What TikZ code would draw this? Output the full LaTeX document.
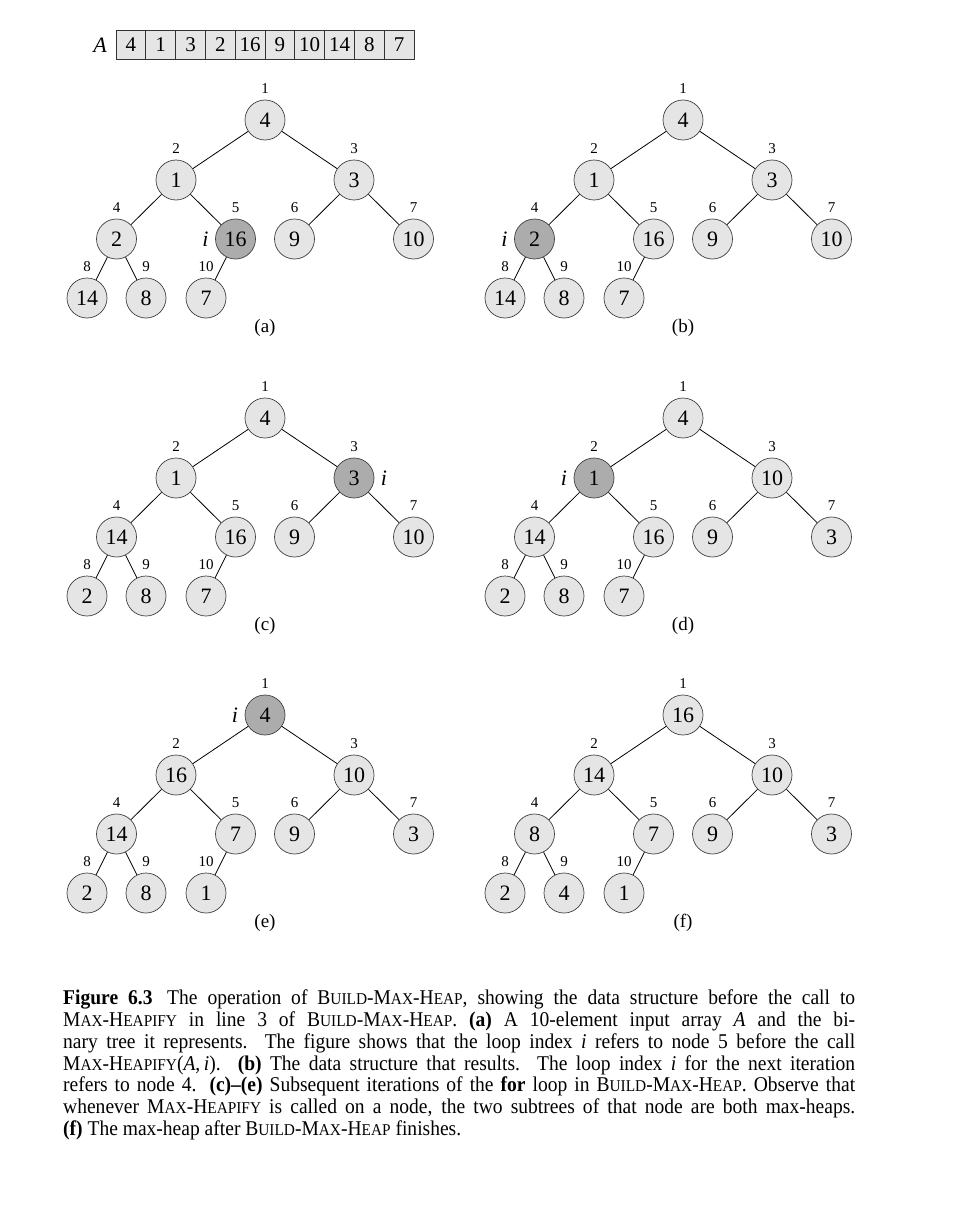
\documentclass[tikz,border=0pt]{standalone}
\usepackage{fontspec}
\setmainfont{Liberation Serif}
\newfontfamily\captionfont[Ligatures=TeX, FakeStretch=0.93]{Liberation Serif}

\newcommand{\smallcap}[1]{{\fontsize{16.5}{18}\selectfont #1}}
\newcommand{\buildmaxheap}{B\smallcap{UILD}-M\smallcap{AX}-H\smallcap{EAP}}
\newcommand{\maxheapify}{M\smallcap{AX}-H\smallcap{EAPIFY}}

\begin{document}
\begin{tikzpicture}[x=1pt, y=-1pt,
    heapnode/.style={circle, draw=black!75, line width=0.7pt, fill=gray!20,
        minimum size=40pt, inner sep=0pt, font=\fontsize{22}{24}\selectfont},
    current/.style={fill=gray!65},
    idx/.style={font=\fontsize{15}{18}\selectfont, inner sep=0pt},
    ilabel/.style={font=\fontsize{22}{24}\selectfont\itshape, inner sep=0pt},
    sub/.style={font=\fontsize{19}{22}\selectfont, inner sep=0pt},
    cell/.style={draw=black!80, line width=0.7pt, fill=gray!20, minimum width=29.8pt,
        minimum height=29pt, inner sep=0pt, font=\fontsize{21}{24}\selectfont},
    edge/.style={line width=0.8pt}]

\useasboundingbox (0,0) rectangle (954,1220);

% --- Input array A ---
\node[ilabel] (A) at (100,45) {A};
\foreach \val [count=\k] in {4,1,3,2,16,9,10,14,8,7} {
    \node[cell] (arr\k) at (101.1+29.8*\k, 44.5) {\val};
}

% --- Heaps (a)-(f): name/root x/root y/values/current node/offset of i ---
\foreach \tr/\ox/\oy/\vals/\hl/\ix in {
    a/265/120/{4,1,3,2,16,9,10,14,8,7}/5/-30,
    b/683/120/{4,1,3,2,16,9,10,14,8,7}/4/-30,
    c/265/418/{4,1,3,14,16,9,10,2,8,7}/3/30,
    d/683/418/{4,1,10,14,16,9,3,2,8,7}/2/-30,
    e/265/715/{4,16,10,14,7,9,3,2,8,1}/1/-30,
    f/683/715/{16,14,10,8,7,9,3,2,4,1}/0/0
}{
    \foreach \val [count=\k] in \vals {
        \pgfmathsetmacro\dx{{0,-89,89,-148.5,-29.5,29.5,148.5,-178,-119,-59}[\k-1]}
        \pgfmathsetmacro\dy{{0,60,60,119,119,119,119,178,178,178}[\k-1]}
        \ifnum\k=\hl\relax
            \node[heapnode, current] (\tr\k) at (\ox+\dx, \oy+\dy) {\val};
        \else
            \node[heapnode] (\tr\k) at (\ox+\dx, \oy+\dy) {\val};
        \fi
        \node[idx] (\tr\k-idx) at ([yshift=31pt]\tr\k) {\k};
    }
    % parent of node k is node k/2
    \foreach \k in {2,...,10} {
        \pgfmathtruncatemacro\p{\k/2}
        \draw[edge] (\tr\p) -- (\tr\k);
    }
    \ifnum\hl>0
        \node[ilabel] (\tr-i) at ([xshift=\ix pt]\tr\hl) {i};
    \fi
    \node[sub] (\tr-sub) at (\ox, \oy+208) {(\tr)};
}

% --- Caption ---
\node[anchor=north west, text width=792pt, align=justify, inner sep=0pt,
      font=\captionfont\fontsize{21}{21.7}\selectfont] (caption) at (63, 990) {%
\textbf{Figure 6.3}\hspace{0.7em}The operation of \buildmaxheap, showing the data structure before the call to\linebreak
\maxheapify{} in line 3 of \buildmaxheap. \textbf{(a)} A 10-element input array \textit{A} and the bi-\linebreak
nary tree it represents. The figure shows that the loop index \textit{i} refers to node 5 before the call\linebreak
\maxheapify(\textit{A},\,\textit{i}). \textbf{(b)} The data structure that results. The loop index \textit{i} for the next iteration\linebreak
refers to node 4. \textbf{(c)--(e)} Subsequent iterations of the \textbf{for} loop in \buildmaxheap. Observe that\linebreak
whenever \maxheapify{} is called on a node, the two subtrees of that node are both max-heaps.\linebreak
\textbf{(f)} The max-heap after \buildmaxheap{} finishes.};

\end{tikzpicture}
\end{document}
